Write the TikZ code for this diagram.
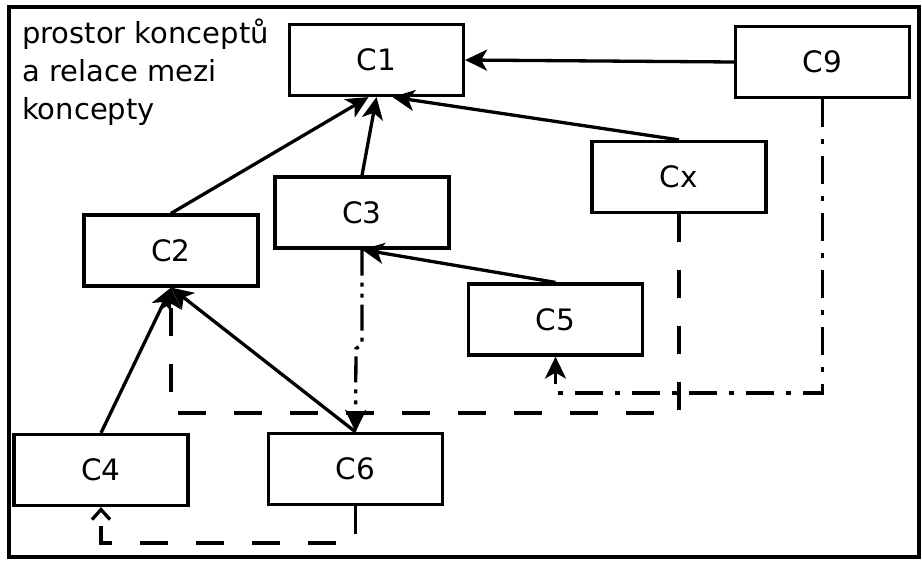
\documentclass[tikz,border=0pt]{standalone}
\usepackage{fontspec}
\setmainfont{DejaVu Sans}
\usetikzlibrary{arrows.meta}
\begin{document}
\begin{tikzpicture}[x=1pt,y=-1pt,
  concept/.style={draw,line width=3.2pt,minimum width=174pt,minimum height=71pt,
    inner sep=0pt,font=\fontsize{29.5}{34}\selectfont},
  tip/.tip={Stealth[length=22pt,width=21pt,inset=6pt]},
  rel/.style={line width=3.3pt,-tip},
  dashrel/.style={line width=3.3pt,dash pattern=on 28pt off 28pt},
  dotrel/.style={line width=3.3pt,dash pattern=on 28pt off 12pt on 5pt off 12pt},
  ddrel/.style={line width=3.3pt,dash pattern=on 26pt off 7pt on 4pt off 7pt on 4pt off 7pt}]
\useasboundingbox (0,0) rectangle (922,562);
% outer frame of the concept space
\draw[line width=3.4pt] (9,7) rectangle (919,557);
\node[anchor=base west,align=left,inner sep=0pt,
  font=\fontsize{29}{38}\selectfont] (title) at (22,119)
  {prostor konceptů\\a relace mezi\\koncepty};
% concepts
\node[concept] (C1) at (376.5,60) {C1};
\node[concept] (C9) at (822.5,62) {C9};
\node[concept] (Cx) at (679,177) {Cx};
\node[concept] (C3) at (362,212.5) {C3};
\node[concept] (C2) at (171,250.5) {C2};
\node[concept] (C5) at (555.5,319.5) {C5};
\node[concept] (C4) at (101,470) {C4};
\node[concept] (C6) at (355.5,469) {C6};
% helper levels for routed relations
\coordinate (lvA) at (0,413);
\coordinate (lvB) at (0,393);
\coordinate (lvC) at (0,543);
% solid relations
\draw[rel] (C9.west) -- (C1.east);
\draw[rel] (C2.north) -- ([xshift=-8pt]C1.south);
\draw[rel] (C3.north) -- (C1.south);
\draw[rel] (Cx.north) -- ([xshift=16pt]C1.south);
\draw[rel] (C5.north) -- (C3.south);
\draw[rel] (C4.north) -- (C2.south);
\draw[rel] (C6.north) -- (C2.south);
% dashed relations
\draw[dashrel,-tip]
  (Cx.south) -- (Cx.south |- lvA) -- (C2.south |- lvA) -- (C2.south);
\draw[dashrel,-{Straight Barb[length=10pt,width=18pt]}]
  (C6.south) -- (C6.south |- lvC) -- (C4.south |- lvC) -- (C4.south);
\draw[dotrel,-tip]
  (C9.south) -- (C9.south |- lvB) -- (C5.south |- lvB) -- (C5.south);
\draw[ddrel,-tip]
  (C3.south) -- ++(0,95) -- ++(-6,4) -- (C6.north);
\end{tikzpicture}
\end{document}
